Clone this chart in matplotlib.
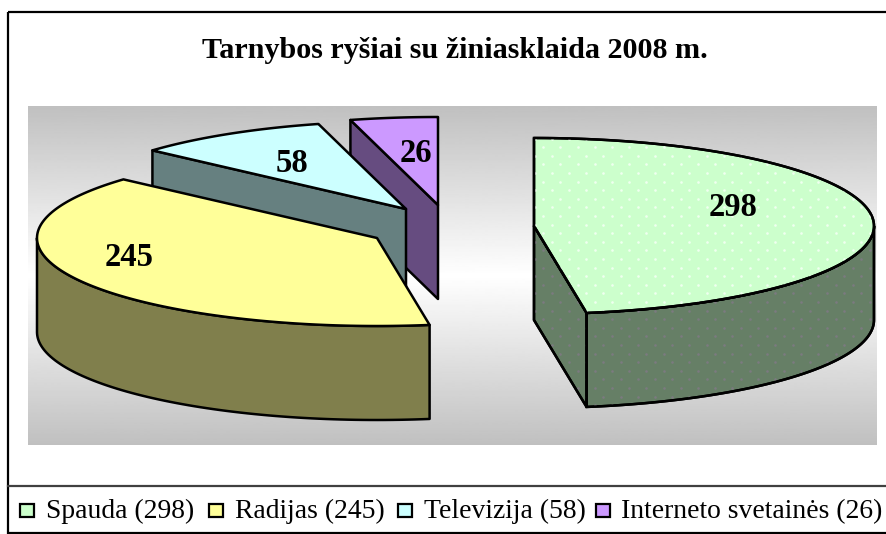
import numpy as np
import matplotlib
matplotlib.use("Agg")
import matplotlib.pyplot as plt
from matplotlib.patches import Polygon, Rectangle

plt.rcParams['font.family'] = ['Liberation Serif', 'DejaVu Serif']

# data
names = ["Spauda", "Radijas", "Televizija", "Interneto svetainės"]
values = [298, 245, 58, 26]
title = "Tarnybos ryšiai su žiniasklaida 2008 m."

# colours
top_colors = ["#CCFFCC", "#FFFF99", "#CCFFFF", "#CC99FF"]
side_colors = ["#667F66", "#807F4C", "#668080", "#664C80"]

# layout, in pixels of the 886x534 picture
centers = [(534, 226), (377, 238), (406, 209), (438, 205)]
label_pos = [(733, 208), (129, 258), (292, 163), (416, 154)]
rx, ry, depth = 340, 88, 94


def ellipse(c, angles):
    #angles are clockwise from 12 o'clock, y goes down
    a = np.radians(angles)
    return np.column_stack([c[0] + rx*np.sin(a), c[1] - ry*np.cos(a)])


def extrude(pts):
    return np.vstack([pts, (pts + [0, depth])[::-1]])


def add_dots(ax, patch, color):
    #small dot texture of the Spauda slice
    x0, y0, x1, y1 = 526, 130, 880, 412
    ys = np.arange(y0, y1, 8.6)
    for i, y in enumerate(ys):
        xs = np.arange(x0 + (i % 2)*8.6, x1, 17.2)
        dots = ax.scatter(xs, np.full(xs.shape, y), s=3.5, c=color, linewidths=0, zorder=patch.get_zorder())
        dots.set_clip_path(patch)


def draw_slice(ax, c, start, end, top, side, z, dots=False):
    faces = []
    #outer wall, only the front half is seen
    lo, hi = max(start, 90), min(end, 270)
    if hi > lo:
        faces.append(extrude(ellipse(c, np.linspace(lo, hi, 80))))
    #cut faces
    if np.sin(np.radians(start)) < -1e-6:
        faces.append(extrude(np.vstack([c, ellipse(c, [start])])))
    if np.sin(np.radians(end)) > 1e-6:
        faces.append(extrude(np.vstack([c, ellipse(c, [end])])))
    for f in faces:
        p = Polygon(f, closed=True, fc=side, ec="black", lw=1.8, joinstyle="round", zorder=z)
        ax.add_patch(p)
        if dots:
            add_dots(ax, p, "#7C7A80")
            ax.add_patch(Polygon(f, closed=True, fc="none", ec="black", lw=1.8, zorder=z + 0.1))
    arc = ellipse(c, np.linspace(start, end, 160))
    pts = np.vstack([c, arc])
    p = Polygon(pts, closed=True, fc=top, ec="black", lw=1.8, joinstyle="round", zorder=z + 0.2)
    ax.add_patch(p)
    if dots:
        add_dots(ax, p, "#F0FFF0")
        ax.add_patch(Polygon(pts, closed=True, fc="none", ec="black", lw=1.8, zorder=z + 0.3))


fig = plt.figure(figsize=(8.86, 5.34), dpi=100)
ax = fig.add_axes([0, 0, 1, 1])
ax.set_xlim(0, 886)
ax.set_ylim(534, 0)
ax.axis("off")

#background of the plot area
t = np.abs(np.linspace(-1, 1, 340)).reshape(-1, 1)
ax.imshow(192 + 63*(1 - t), cmap="gray", vmin=0, vmax=255, extent=(28, 877, 445, 106), aspect="auto", zorder=1)
ax.set_xlim(0, 886)
ax.set_ylim(534, 0)

#frame
ax.add_patch(Rectangle((8, 12), 890, 521, fc="none", ec="black", lw=1.6, zorder=2))
ax.plot([8, 886], [486, 486], color="#404040", lw=1.6, zorder=2)

#slices, back ones first
angles = np.cumsum([0] + values) / sum(values) * 360
for i in [3, 2, 1, 0]:
    draw_slice(ax, centers[i], angles[i], angles[i + 1], top_colors[i], side_colors[i], 3 + (3 - i), dots=(i == 0))
    ax.text(label_pos[i][0], label_pos[i][1], str(values[i]), fontsize=23.5, fontweight="bold",
            ha="center", va="center", zorder=10)

ax.text(455, 51, title, fontsize=21.7, fontweight="bold", ha="center", va="center", zorder=10)

#legend
box_x = [20, 209, 398, 596]
text_x = [46, 235, 424, 621]
for i in range(4):
    ax.add_patch(Rectangle((box_x[i], 504), 14, 13, fc=top_colors[i], ec="black", lw=1.6, zorder=10))
    ax.text(text_x[i], 518, f"{names[i]} ({values[i]})", fontsize=19.9, ha="left", va="baseline", zorder=10)

fig.savefig("out.png", dpi=100)
